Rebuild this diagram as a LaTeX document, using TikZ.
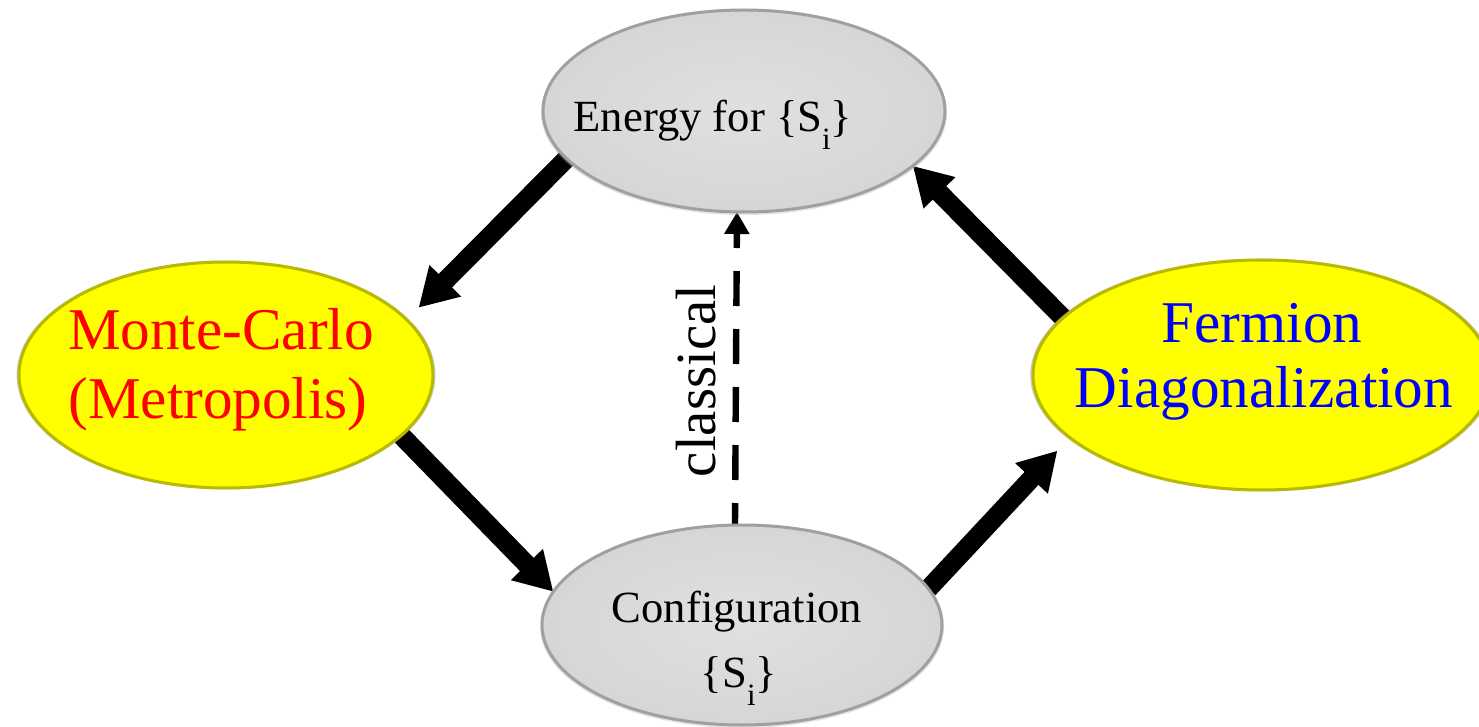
\documentclass[tikz,border=0pt]{standalone}
\usepackage{fontspec}
\setmainfont{Liberation Serif}
\usetikzlibrary{arrows.meta,shapes.geometric,shadows,backgrounds}

\definecolor{yelfill}{RGB}{255,255,0}
\definecolor{yelborder}{RGB}{185,185,0}
\definecolor{grayin}{RGB}{224,224,224}
\definecolor{grayout}{RGB}{214,214,214}
\definecolor{grayborder}{RGB}{160,160,160}
\definecolor{txtred}{RGB}{255,0,0}
\definecolor{txtblue}{RGB}{0,0,255}

\newcommand\mysub[1]{\raisebox{-9pt}{\fontsize{15.5pt}{18pt}\selectfont #1}}

\begin{document}
\begin{tikzpicture}[x=0.5pt,y=-0.5pt,
  yel/.style={ellipse, draw=yelborder, line width=1.5pt, fill=yelfill,
    inner sep=0pt, outer sep=0pt,
    general shadow={fill=gray!70, shadow scale=1.012, opacity=0.6}},
  gry/.style={ellipse, draw=grayborder, line width=1.5pt,
    inner color=grayin, outer color=grayout,
    inner sep=0pt, outer sep=0pt,
    general shadow={fill=gray!60, shadow scale=1.01, shadow yshift=-1pt, opacity=0.35}},
  bigtxt/.style={font=\fontsize{29.6pt}{34pt}\selectfont, anchor=base, inner sep=0pt},
  smalltxt/.style={font=\fontsize{22.3pt}{27pt}\selectfont, anchor=base, inner sep=0pt},
  bigarrow/.style={line width=9.5pt, -{Triangle[length=19pt,width=21pt]}},
  dasharrow/.style={line width=3.2pt, dash pattern=on 17.5pt off 11.5pt, dash phase=6.5pt,
    -{Triangle[length=11pt,width=12pt]}}
]
\useasboundingbox (0,0) rectangle (1479,727);
\clip (0,0) rectangle (1479,727);

% ellipses
\node[gry, minimum width=201pt, minimum height=101pt] (T) at (744,111) {};
\node[gry, minimum width=200pt, minimum height=100pt] (B) at (742,625) {};
\node[yel, minimum width=207pt, minimum height=113pt] (L) at (226,375) {};
\node[yel, minimum width=229pt, minimum height=115pt] (R) at (1262,375) {};

% texts
\node[smalltxt] (Ttxt) at (713,132) {Energy for \{S\mysub{i}\}};
\node[smalltxt] (Btxt1) at (737,622) {Configuration};
\node[smalltxt] (Btxt2) at (739,687) {\{S\mysub{i}\}};
\node[bigtxt, text=txtred] (Ltxt1) at (221,350) {Monte-Carlo};
\node[bigtxt, text=txtred] (Ltxt2) at (218,418) {(Metropolis)};
\node[bigtxt, text=txtblue] (Rtxt1) at (1262,343) {Fermion};
\node[bigtxt, text=txtblue] (Rtxt2) at (1264,408) {Diagonalization};
\node[font=\fontsize{28.4pt}{34pt}\selectfont, rotate=90, anchor=base, inner sep=0pt]
  (cls) at (715,381) {classical};

% connectors
\begin{scope}[on background layer]
  \draw[bigarrow, shorten >=8.5pt] (T.195) -- (L.17);
  \draw[bigarrow] (L.-19) -- (B.170);
  \draw[bigarrow, shorten >=9pt] (B.11.6) -- (R.198);
  \draw[bigarrow] (R.164) -- (T.-18);
  \draw[dasharrow] ([xshift=-3.5pt]B.north) -- ([xshift=-3.5pt]T.south);
\end{scope}
\end{tikzpicture}
\end{document}
